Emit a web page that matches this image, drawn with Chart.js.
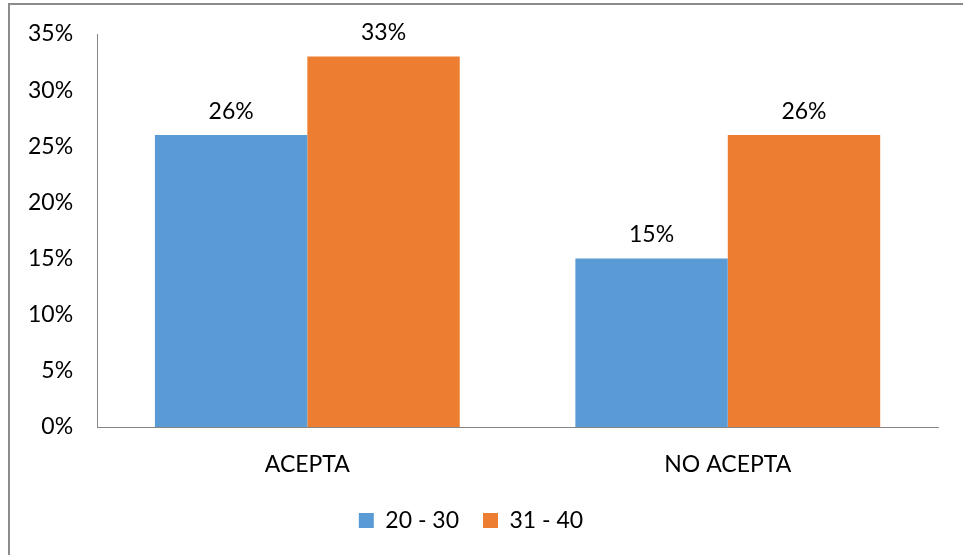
<!DOCTYPE html>
<html>
<head>
<meta charset="utf-8">
<script src="https://cdn.jsdelivr.net/npm/chart.js@4"></script>
<style>
  html, body { margin: 0; padding: 0; background: #fff; }
  #wrap { position: relative; width: 963px; height: 555px; }
  #frame { position: absolute; left: 8px; top: 3px; width: 970px; height: 570px;
           border-left: 2px solid #8c8c8c; border-top: 2px solid #8c8c8c; }
  canvas { position: absolute; left: 0; top: 0; }
</style>
</head>
<body>
<div id="wrap">
  <div id="frame"></div>
  <canvas id="chart-bars" width="963" height="555"></canvas>
</div>
<script>
var categorias = ["ACEPTA", "NO ACEPTA"];
var grupos = ["20 - 30", "31 - 40"];
var valores2030 = [26, 15];
var valores3140 = [33, 26];
var ticksY = [0, 5, 10, 15, 20, 25, 30, 35];

var fuente = "Lato";
var tam = 23;

// etiquetas encima de cada barra
var etiquetas = {
  id: "etiquetas",
  afterDatasetsDraw: function (chart) {
    var ctx = chart.ctx;
    ctx.save();
    ctx.font = tam + "px " + fuente;
    ctx.fillStyle = "#000";
    ctx.textAlign = "center";
    ctx.textBaseline = "bottom";
    chart.data.datasets.forEach(function (ds, i) {
      chart.getDatasetMeta(i).data.forEach(function (bar, j) {
        ctx.fillText(ds.data[j] + "%", bar.x, bar.y - 12);
      });
    });
    ctx.restore();
  },
};

var ctx = document.getElementById("chart-bars").getContext("2d");

new Chart(ctx, {
  type: "bar",
  data: {
    labels: categorias,
    datasets: [
      {
        label: grupos[0],
        backgroundColor: "#5b9bd5",
        borderWidth: 0,
        data: valores2030,
        categoryPercentage: 0.725,
        barPercentage: 1,
      },
      {
        label: grupos[1],
        backgroundColor: "#ed7d31",
        borderWidth: 0,
        data: valores3140,
        categoryPercentage: 0.725,
        barPercentage: 1,
      },
    ],
  },
  plugins: [etiquetas],
  options: {
    responsive: false,
    animation: false,
    layout: {
      padding: { left: 4, right: 25, top: 34, bottom: 13 },
    },
    plugins: {
      legend: {
        position: "bottom",
        labels: {
          boxWidth: 15,
          boxHeight: 15,
          padding: 24,
          color: "#000",
          font: { size: tam, family: fuente },
        },
      },
      tooltip: { enabled: false },
    },
    scales: {
      y: {
        min: 0,
        max: 35,
        afterBuildTicks: function (axis) {
          axis.ticks = ticksY.map(function (v) { return { value: v }; });
        },
        afterFit: function (axis) {
          axis.paddingTop = 0;
        },
        grid: { display: false, drawTicks: false },
        border: { display: true, color: "#868686", width: 1 },
        ticks: {
          padding: 24,
          color: "#000",
          font: { size: tam, family: fuente },
          callback: function (value) { return value + "%"; },
        },
      },
      x: {
        afterFit: function (axis) {
          axis.height = 58;
        },
        grid: { display: false, drawTicks: false },
        border: { display: true, color: "#868686", width: 1 },
        ticks: {
          padding: 24,
          color: "#000",
          font: { size: tam, family: fuente },
        },
      },
    },
  },
});
</script>
</body>
</html>
